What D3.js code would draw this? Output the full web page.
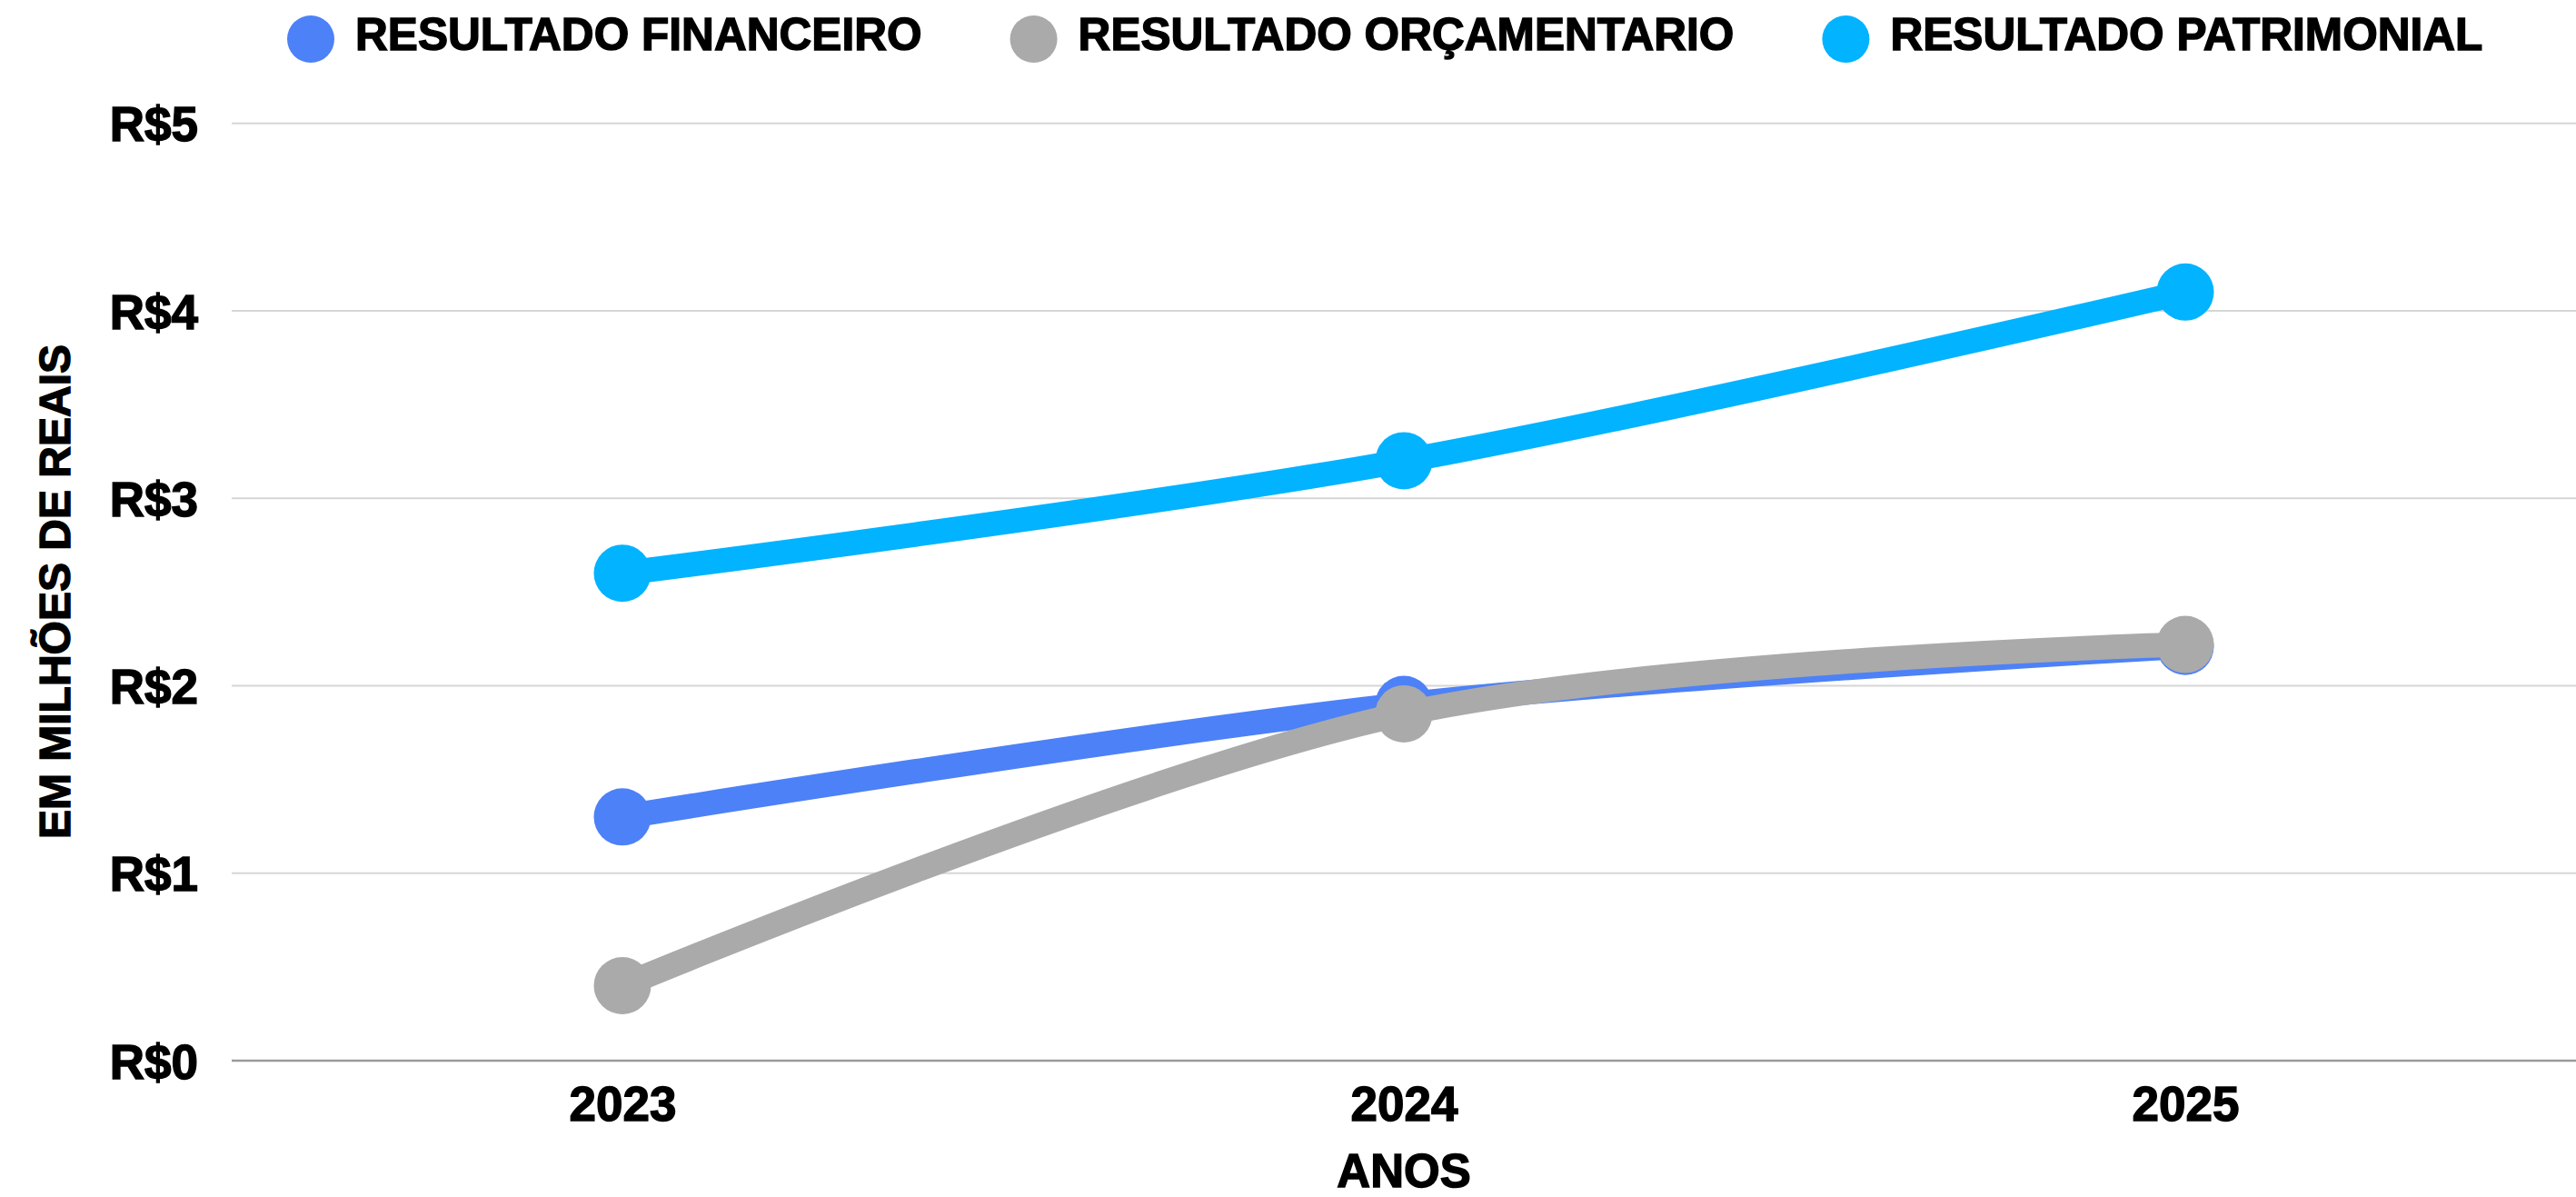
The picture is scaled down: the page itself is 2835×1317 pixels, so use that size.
<!DOCTYPE html>
<html lang="pt-BR">
<head>
<meta charset="utf-8">
<title>Resultados 2023–2025</title>
<script src="https://cdn.jsdelivr.net/npm/d3@7/dist/d3.min.js"></script>
<style>
  html, body { margin: 0; padding: 0; background: #ffffff; }
  svg { display: block; }
  text {
    font-family: "Liberation Sans", Arial, sans-serif;
    font-weight: bold;
    fill: #000;
    stroke: #000;
    stroke-width: 1.4px;
    paint-order: stroke;
  }
</style>
</head>
<body>
<svg id="chart" width="2835" height="1317"></svg>
<script>
// Anos (eixo X)
const years = ["2023", "2024", "2025"];

// Valores em milhões de reais
const financeiro   = [1.30, 1.90, 2.21];
const orcamentario = [0.40, 1.85, 2.22];
const patrimonial  = [2.60, 3.20, 4.10];

const seriesNames  = ["RESULTADO FINANCEIRO", "RESULTADO ORÇAMENTARIO", "RESULTADO PATRIMONIAL"];
const seriesColors = ["#4d81f7", "#aaaaaa", "#02b3ff"];

// Marcas do eixo Y
const yTicks = [0, 1, 2, 3, 4, 5];
const yTickLabels = ["R$0", "R$1", "R$2", "R$3", "R$4", "R$5"];

const W = 2835, H = 1317;
const plot = { left: 255, right: 2835, top: 135.7, bottom: 1167 };

const svg = d3.select("#chart");

const x = d3.scalePoint()
  .domain(years)
  .range([plot.left, plot.right])
  .padding(0.5);

const y = d3.scaleLinear()
  .domain([0, 5])
  .range([plot.bottom, plot.top]);

// Linhas de grade
svg.append("g")
  .selectAll("line")
  .data(yTicks.filter(t => t > 0))
  .join("line")
  .attr("x1", plot.left)
  .attr("x2", plot.right)
  .attr("y1", d => y(d))
  .attr("y2", d => y(d))
  .attr("stroke", "#d6d6d6")
  .attr("stroke-width", 2);

// Linha de base
svg.append("line")
  .attr("x1", plot.left)
  .attr("x2", plot.right)
  .attr("y1", y(0))
  .attr("y2", y(0))
  .attr("stroke", "#9a9a9a")
  .attr("stroke-width", 2.5);

// Rótulos do eixo Y
const yAxis = d3.axisLeft(y)
  .tickValues(yTicks)
  .tickFormat((d, i) => yTickLabels[i])
  .tickSize(0)
  .tickPadding(0);

const yAxisG = svg.append("g")
  .attr("transform", `translate(218,0)`)
  .call(yAxis);
yAxisG.select(".domain").remove();
yAxisG.selectAll("text")
  .attr("font-size", 53)
  .attr("font-family", "Liberation Sans, Arial, sans-serif")
  .attr("font-weight", "bold")
  .attr("fill", "#000")
  .attr("dy", "0.36em");

// Rótulos do eixo X
const xAxis = d3.axisBottom(x).tickSize(0).tickPadding(0);
const xAxisG = svg.append("g")
  .attr("transform", `translate(0,1233)`)
  .call(xAxis);
xAxisG.select(".domain").remove();
xAxisG.selectAll("text")
  .attr("font-size", 53)
  .attr("font-family", "Liberation Sans, Arial, sans-serif")
  .attr("font-weight", "bold")
  .attr("fill", "#000")
  .attr("dy", 0);

// Títulos dos eixos
svg.append("text")
  .attr("x", x("2024"))
  .attr("y", 1306)
  .attr("text-anchor", "middle")
  .attr("font-size", 51)
  .text("ANOS");

svg.append("text")
  .attr("transform", `translate(77,651) rotate(-90)`)
  .attr("text-anchor", "middle")
  .attr("font-size", 48)
  .text("EM MILHÕES DE REAIS");

// Séries
const allSeries = [financeiro, orcamentario, patrimonial];
const line = d3.line()
  .x((d, i) => x(years[i]))
  .y(d => y(d))
  .curve(d3.curveCatmullRom.alpha(0.5));

allSeries.forEach((vals, s) => {
  const g = svg.append("g");
  g.append("path")
    .datum(vals)
    .attr("d", line)
    .attr("fill", "none")
    .attr("stroke", seriesColors[s])
    .attr("stroke-width", 27)
    .attr("stroke-linecap", "butt");
  g.selectAll("circle")
    .data(vals)
    .join("circle")
    .attr("cx", (d, i) => x(years[i]))
    .attr("cy", d => y(d))
    .attr("r", 31.5)
    .attr("fill", seriesColors[s]);
});

// Legenda
const legend = svg.append("g");
const items = legend.selectAll("g")
  .data(seriesNames)
  .join("g");
items.append("circle")
  .attr("r", 26)
  .attr("cx", 0)
  .attr("cy", 43)
  .attr("fill", (d, i) => seriesColors[i]);
items.append("text")
  .attr("x", 49)
  .attr("y", 54.5)
  .attr("font-size", 49.6)
  .text(d => d);

let cursor = 342;
items.each(function () {
  const g = d3.select(this);
  g.attr("transform", `translate(${cursor},0)`);
  const w = g.select("text").node().getComputedTextLength();
  cursor += 26 + 23 + w + 97 + 26;
});
</script>
</body>
</html>
